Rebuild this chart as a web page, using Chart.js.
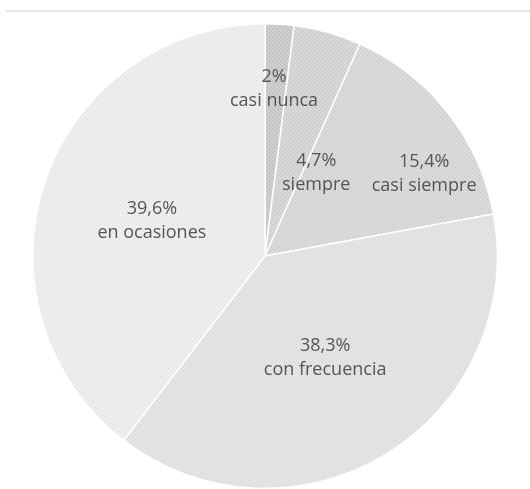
<!DOCTYPE html>
<html>
<head>
<meta charset="utf-8">
<script src="https://cdn.jsdelivr.net/npm/chart.js@4"></script>
<style>
  body { margin: 0; background: #fff; }
  #wrap { position: relative; width: 530px; height: 489px; }
  #rule { position: absolute; left: 6px; right: 0; top: 10px; height: 2px; background: #e6e6e6; }
  canvas { position: absolute; left: 0; top: 0; }
</style>
</head>
<body>
<div id="wrap">
  <div id="rule"></div>
  <canvas id="pieChart" width="530" height="489"></canvas>
</div>
<script>
const categories = ['casi nunca', 'siempre', 'casi siempre', 'con frecuencia', 'en ocasiones'];
const values = [2, 4.7, 15.4, 38.3, 39.6];
const valueLabels = ['2%', '4,7%', '15,4%', '38,3%', '39,6%'];

// slice fills (base, stripe)
const baseColors = ['#cfcfcf', '#d8d8d8', '#dbdbdb', '#e5e5e5', '#efefef'];
const stripeColors = ['#bdbdbd', '#c9c9c9', '#cdcdcd', '#d9d9d9', '#e3e3e3'];
// label placement tweaks: radius fraction and angle shift in degrees
const labelRadius = [0.72, 0.42, 0.77, 0.51, 0.51];
const labelShift = [-0.5, 16, 11, 1, -1.5];

function hatch(base, stripe) {
    const c = document.createElement('canvas');
    c.width = 4; c.height = 4;
    const g = c.getContext('2d');
    g.fillStyle = base;
    g.fillRect(0, 0, 4, 4);
    g.strokeStyle = stripe;
    g.lineWidth = 1;
    g.beginPath();
    g.moveTo(0, 0); g.lineTo(4, 4);
    g.moveTo(-2, 2); g.lineTo(2, 6);
    g.moveTo(2, -2); g.lineTo(6, 2);
    g.stroke();
    return g.createPattern(c, 'repeat');
}

const sliceLabels = {
    id: 'sliceLabels',
    afterDatasetsDraw(chart) {
        const ctx = chart.ctx;
        const meta = chart.getDatasetMeta(0);
        ctx.save();
        ctx.fillStyle = '#555555';
        ctx.font = '18px "Open Sans"';
        ctx.textAlign = 'center';
        ctx.textBaseline = 'middle';
        meta.data.forEach((arc, i) => {
            const p = arc.getProps(['x', 'y', 'startAngle', 'endAngle', 'outerRadius'], true);
            const a = (p.startAngle + p.endAngle) / 2 + labelShift[i] * Math.PI / 180;
            const r = p.outerRadius * labelRadius[i];
            const x = p.x + Math.cos(a) * r;
            const y = p.y + Math.sin(a) * r;
            ctx.fillText(valueLabels[i], x, y - 12);
            ctx.fillText(categories[i], x, y + 12);
        });
        ctx.restore();
    }
};

const ctx = document.getElementById('pieChart').getContext('2d');
new Chart(ctx, {
    type: 'pie',
    data: {
        labels: categories,
        datasets: [{
            data: values,
            backgroundColor: baseColors.map((b, i) => hatch(b, stripeColors[i])),
            borderColor: '#ffffff',
            borderWidth: 1.5
        }]
    },
    options: {
        responsive: false,
        animation: false,
        layout: { padding: { left: 31, right: 31, top: 23, bottom: 0 } },
        plugins: {
            legend: { display: false },
            tooltip: { enabled: false }
        }
    },
    plugins: [sliceLabels]
});
</script>
</body>
</html>
